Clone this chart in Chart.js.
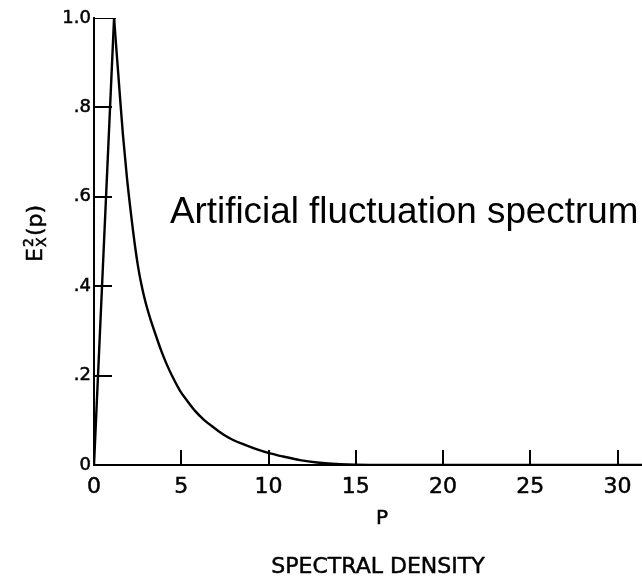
<!DOCTYPE html>
<html>
<head>
<meta charset="utf-8">
<script src="https://cdn.jsdelivr.net/npm/chart.js@4"></script>
<style>
    body { margin: 0; background: #fff; }
</style>
</head>
<body>
<canvas id="spectrumPlot" width="642" height="580"></canvas>
<script>
// Rising edge and decaying tail of the spectrum
var riseP = [0, 1.15];
var riseE = [0, 1.0];
var tailP = [1.15, 1.32, 1.49, 1.66, 1.89, 2.12, 2.35, 2.52, 2.69, 2.92, 3.21, 3.5, 3.84, 4.18, 4.53,
             4.93, 5.39, 5.79, 6.3, 6.82, 7.39, 7.97, 8.65, 9.34, 10.09, 10.83, 11.8, 12.78, 14.1, 15.8,
             20, 25, 31.4];
var tailE = [1.0, 0.911, 0.823, 0.738, 0.642, 0.562, 0.49, 0.445, 0.409, 0.369, 0.329, 0.295, 0.257, 0.224, 0.195,
             0.166, 0.141, 0.121, 0.101, 0.085, 0.069, 0.056, 0.045, 0.035, 0.026, 0.019, 0.011, 0.0056, 0.0016, 0,
             0, 0, 0];

var xTicks = [0, 5, 10, 15, 20, 25, 30];
var yTicks = [0, 0.2, 0.4, 0.6, 0.8, 1.0];
var yTickLabels = ['0', '.2', '.4', '.6', '.8', '1.0'];

function toPoints(xs, ys) {
    return xs.map(function (x, i) { return { x: x, y: ys[i] }; });
}

var peakP = riseP[riseP.length - 1];
var peakE = riseE[riseE.length - 1];

// lettering on the original is drawn with a heavy pen, so stroke it too
function letter(ctx, text, x, y) {
    ctx.fillText(text, x, y);
    ctx.strokeText(text, x, y);
}

// Inward tick marks and the hand-lettered labels
var annotate = {
    id: 'annotate',
    afterDraw: function (chart) {
        var ctx = chart.ctx;
        var xs = chart.scales.x;
        var ys = chart.scales.y;
        ctx.save();
        ctx.strokeStyle = '#000';
        ctx.lineWidth = 2;
        xTicks.forEach(function (v) {
            if (v === 0) return;
            var px = Math.round(xs.getPixelForValue(v));
            ctx.beginPath();
            ctx.moveTo(px, ys.bottom);
            ctx.lineTo(px, ys.bottom - 15);
            ctx.stroke();
        });
        yTicks.forEach(function (v) {
            if (v === 0 || v === 1) return;
            var py = Math.round(ys.getPixelForValue(v));
            ctx.beginPath();
            ctx.moveTo(xs.left, py);
            ctx.lineTo(xs.left + 18, py);
            ctx.stroke();
        });

        ctx.fillStyle = '#000';
        ctx.lineWidth = 0.5;
        ctx.textAlign = 'center';
        ctx.textBaseline = 'middle';
        ctx.font = '20px "DejaVu Sans"';
        letter(ctx, 'P', 382, 519);
        ctx.font = '22px "DejaVu Sans"';
        letter(ctx, 'SPECTRAL DENSITY', 378, 567);

        ctx.textAlign = 'left';
        ctx.textBaseline = 'alphabetic';
        ctx.font = '36.8px "Liberation Sans"';
        ctx.fillText('Artificial fluctuation spectrum', 170, 223);

        // y axis title E^2_X(p), reading bottom to top
        ctx.translate(42, 262);
        ctx.rotate(-Math.PI / 2);
        ctx.font = '22px "DejaVu Sans"';
        letter(ctx, 'E', 0, 0);
        ctx.font = '14px "DejaVu Sans"';
        letter(ctx, '2', 15, -9);
        letter(ctx, 'X', 15, 4);
        ctx.font = '22px "DejaVu Sans"';
        letter(ctx, '(p)', 26, 0);
        ctx.restore();
    }
};

var ctx = document.getElementById('spectrumPlot').getContext('2d');
var chart = new Chart(ctx, {
    type: 'scatter',
    data: {
        datasets: [{
            data: toPoints(riseP, riseE),
            showLine: true,
            borderColor: '#000',
            borderWidth: 2.4,
            pointRadius: 0,
            tension: 0
        }, {
            data: toPoints(tailP, tailE),
            showLine: true,
            borderColor: '#000',
            borderWidth: 2.4,
            pointRadius: 0,
            cubicInterpolationMode: 'monotone'
        }, {
            // short top frame line running to the peak
            data: [{ x: 0, y: peakE }, { x: peakP + 0.1, y: peakE }],
            showLine: true,
            borderColor: '#000',
            borderWidth: 2,
            pointRadius: 0
        }]
    },
    options: {
        responsive: false,
        animation: false,
        devicePixelRatio: 1,
        layout: { padding: { top: 18, right: 0, left: 0, bottom: 0 } },
        plugins: {
            legend: { display: false },
            tooltip: { enabled: false }
        },
        scales: {
            x: {
                type: 'linear',
                min: 0,
                max: 31.4,
                afterBuildTicks: function (scale) {
                    scale.ticks = xTicks.map(function (v) { return { value: v }; });
                },
                afterFit: function (scale) { scale.height = 115; },
                grid: { drawOnChartArea: false, drawTicks: false },
                border: { display: true, color: '#000', width: 2 },
                ticks: {
                    color: '#000',
                    textStrokeColor: '#000',
                    textStrokeWidth: 0.5,
                    padding: 9,
                    maxRotation: 0,
                    font: { family: 'DejaVu Sans', size: 22 }
                }
            },
            y: {
                type: 'linear',
                min: 0,
                max: 1,
                afterBuildTicks: function (scale) {
                    scale.ticks = yTicks.map(function (v) { return { value: v }; });
                },
                afterFit: function (scale) { scale.width = 94; },
                grid: { drawOnChartArea: false, drawTicks: false },
                border: { display: true, color: '#000', width: 2 },
                ticks: {
                    color: '#000',
                    textStrokeColor: '#000',
                    textStrokeWidth: 0.5,
                    padding: 3,
                    font: { family: 'DejaVu Sans', size: 18 },
                    callback: function (value) {
                        var i = yTicks.indexOf(value);
                        return i >= 0 ? yTickLabels[i] : '';
                    }
                }
            }
        }
    },
    plugins: [annotate]
});
</script>
</body>
</html>
